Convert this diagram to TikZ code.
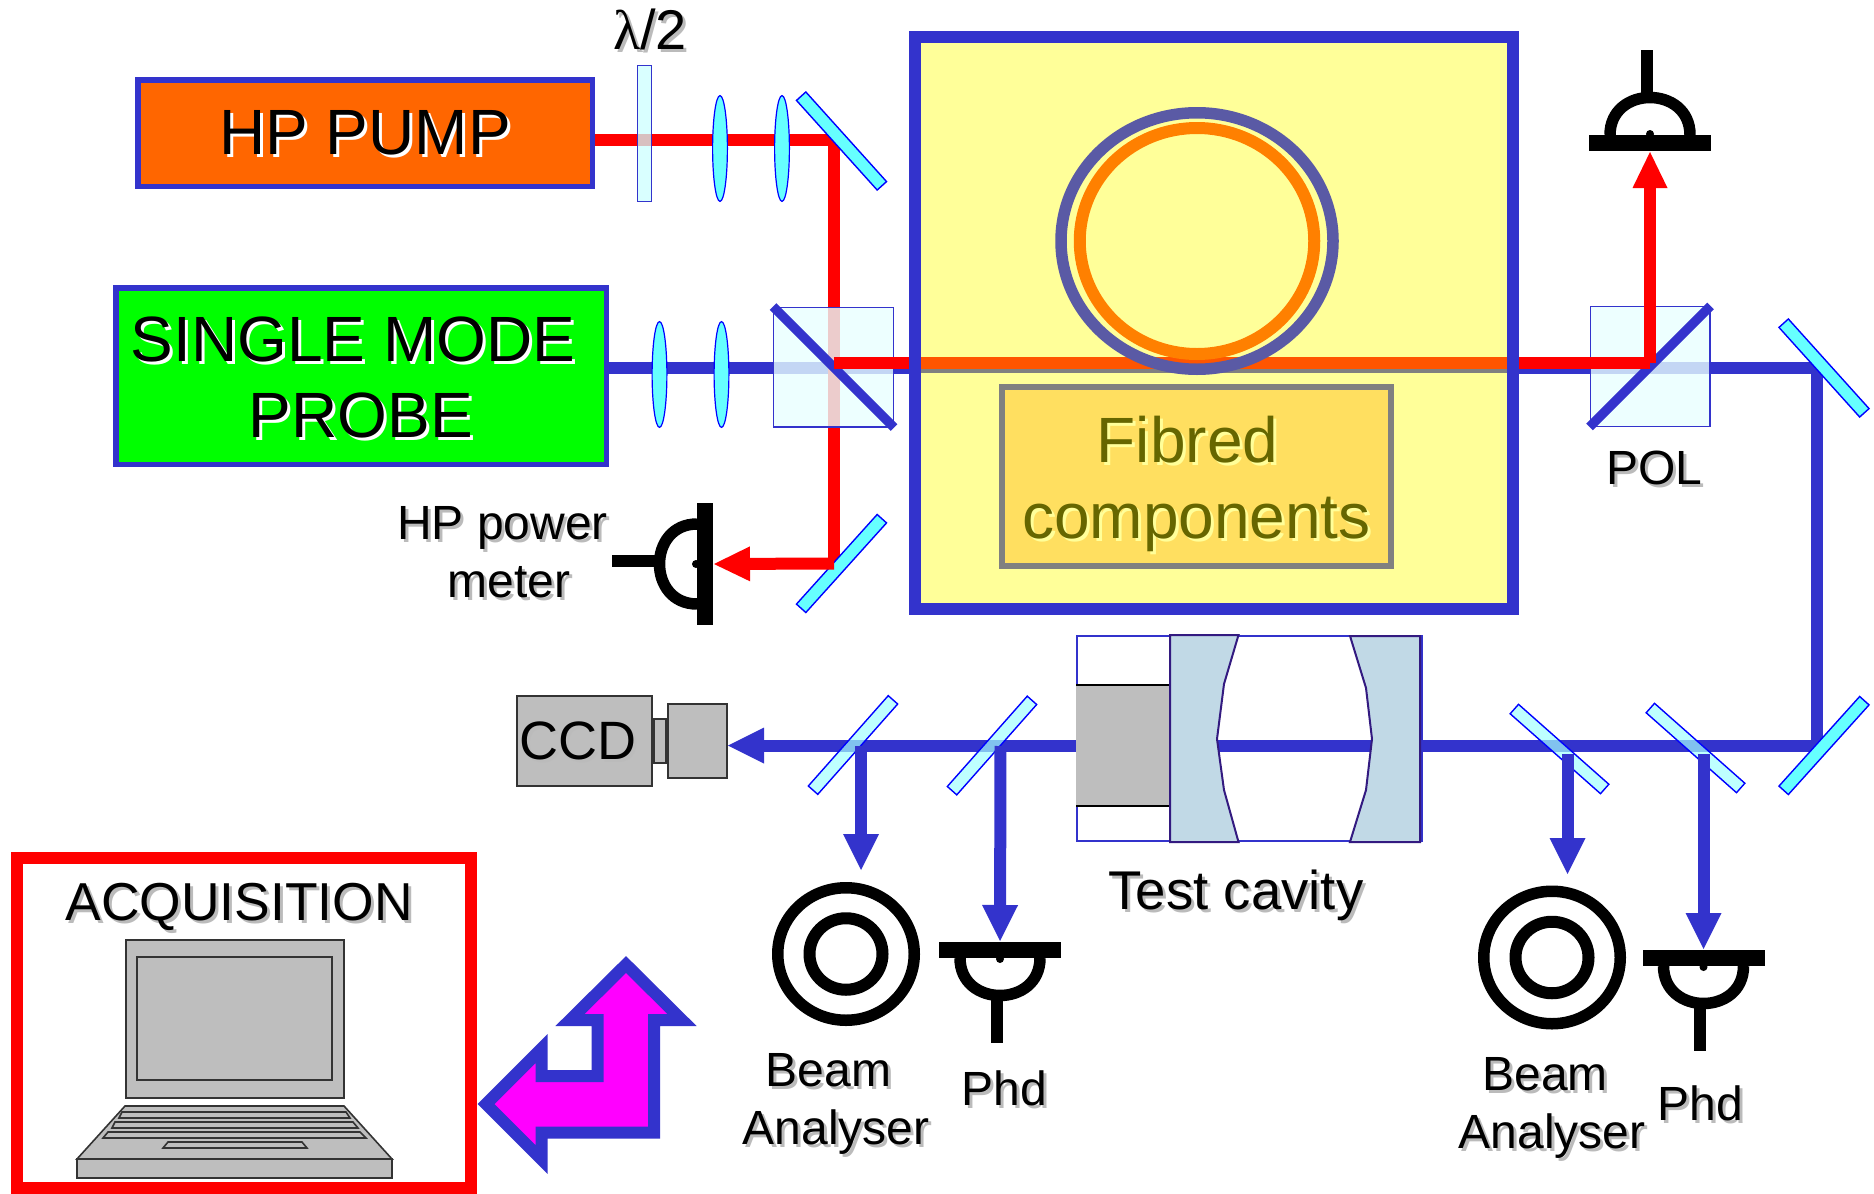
\documentclass[tikz,border=0pt]{standalone}
\usepackage{fontspec}
\setmainfont{Liberation Sans}
\newfontfamily\lamfont{Liberation Serif}
\usetikzlibrary{positioning,arrows.meta,shapes.geometric}
\definecolor{beamblue}{HTML}{3333CC}
\definecolor{beamred}{HTML}{FF0000}
\definecolor{pumporange}{HTML}{FF6600}
\definecolor{probegreen}{HTML}{00FF00}
\definecolor{boxyellow}{HTML}{FFFF99}
\definecolor{fibreyellow}{HTML}{FFDF60}
\definecolor{fibretext}{HTML}{666600}
\definecolor{ringblue}{HTML}{5A5AA5}
\definecolor{ringorange}{HTML}{FF8000}
\definecolor{midorange}{HTML}{FF5500}
\definecolor{midgray}{HTML}{808080}
\definecolor{mirrorcyan}{HTML}{66FFFF}
\definecolor{platecyan}{HTML}{CCFFFF}
\definecolor{cubefill}{HTML}{E8FFFF}
\definecolor{devicegray}{HTML}{BEBEBE}
\definecolor{cavityblue}{HTML}{C1D9E6}
\definecolor{cavityedge}{HTML}{331A80}
\definecolor{shadowgray}{HTML}{BBBBBB}
\definecolor{arrowmagenta}{HTML}{FF00FF}
\newcommand{\shadowed}[2][shadowgray]{\leavevmode\rlap{\hspace{1.5pt}\raisebox{-1.5pt}[0pt][0pt]{\textcolor{#1}{#2}}}#2}
\tikzset{
  bigtext/.style={font=\fontsize{32pt}{38pt}\selectfont},
  lbl/.style={inner sep=0pt,font=\fontsize{24pt}{29pt}\selectfont,align=center},
  sourcebox/.style={rectangle,draw=beamblue,line width=2.75pt,inner sep=0pt,bigtext,align=center},
  bluebeam/.style={draw=beamblue,line width=6pt},
  redbeam/.style={draw=beamred,line width=6pt},
  bluearrow/.style={bluebeam,-{Triangle[length=18pt,width=18pt,line width=0pt]}},
  redarrow/.style={redbeam,-{Triangle[length=18pt,width=17.5pt,line width=0pt]}},
  lens/.style={ellipse,draw=blue,line width=.6pt,fill=mirrorcyan,inner sep=0pt,minimum width=7.4pt,minimum height=52.9pt},
  mirrorsolid/.style={rectangle,draw=blue,line width=.7pt,fill=mirrorcyan,inner sep=0pt,minimum width=60.3pt,minimum height=6.3pt},
  mirrorpart/.style={mirrorsolid,fill=mirrorcyan!60!white,fill opacity=.7},
  cube/.style={rectangle,draw=beamblue,line width=.6pt,fill=cubefill,fill opacity=.8,inner sep=0pt,minimum width=59.9pt,minimum height=59.9pt},
  splitter/.style={draw=beamblue,line width=4.75pt},
  ringout/.style={ellipse,draw=black,line width=5.75pt,inner sep=0pt,minimum width=68.25pt,minimum height=66.25pt},
  ringin/.style={ellipse,draw=black,line width=6pt,inner sep=0pt,minimum width=36.5pt,minimum height=35.75pt},
  device/.style={draw=black!80,line width=.8pt,fill=devicegray},
  devicenode/.style={device,rectangle,inner sep=0pt},
  mirrorcav/.style={draw=cavityedge,line width=1pt,fill=cavityblue},
  pics/phd/.style={code={
    \coordinate (-in) at (0,9);
    \draw[line width=5.75pt] (-40,-8) .. controls (-40,-58) and (40,-58) .. (40,-8);
    \fill (-61,-8) rectangle (61,8);
    \fill (0,-9) circle (2pt);
    \draw[line width=6pt] (-3.5,-44) -- (-3.5,-93);
  }}
}
\begin{document}
\begin{tikzpicture}[x=0.5pt,y=-0.5pt]
  \useasboundingbox (0,0) rectangle (1874,1194);
  \coordinate (pumpbend) at (834,140);
  \coordinate (meterbend) at (834,563.5);
  \coordinate (bluejoin) at (834,367.5);
  \coordinate (redjoin) at (834,363);
  \coordinate (polbend) at (1650,363);
  \coordinate (cornerup) at (1817,367.5);
  \coordinate (cornerlow) at (1817,745.5);
  \coordinate (tapa) at (861,746);
  \coordinate (tapb) at (1000.5,746);
  \coordinate (tapc) at (1567.5,754);
  \coordinate (tapd) at (1703.5,754);
  \coordinate (anaa) at (861,870);
  \coordinate (anab) at (1567.5,874);
  \coordinate (fibleft) at (921,367);
  \coordinate (fibright) at (1507,367);
  \coordinate (orleft) at (921,363);
  \coordinate (orright) at (1507,363);

  \node[sourcebox,fill=pumporange,minimum width=227.25pt,minimum height=53.25pt] (pump) at (365,133) {\shadowed[white]{HP PUMP}};
  \node[sourcebox,fill=probegreen,minimum width=245.25pt,minimum height=88.25pt] (probe) at (361,376) {\rule{0pt}{24pt}\shadowed[white]{SINGLE MODE}\hspace*{8pt}\\\shadowed[white]{PROBE}};
  \node[rectangle,draw=beamblue,line width=6pt,fill=boxyellow,minimum width=299pt,minimum height=286pt] (setup) at (1214,323) {};
  \node[devicenode,minimum width=67.7pt,minimum height=45pt,font=\fontsize{27pt}{30pt}\selectfont] (ccd) at (584.5,741) {\shadowed{CCD}\hspace*{6.5pt}};
  \node[devicenode,right=0pt of ccd,minimum width=6.2pt,minimum height=22.2pt] (ccdneck) {};
  \node[devicenode,right=0pt of ccdneck,minimum width=29.7pt,minimum height=37.2pt] (ccdcam) {};

  \draw[draw=midgray,line width=6pt] (fibleft) -- (fibright);
  \draw[draw=midorange,line width=6pt] (orleft) -- (orright);
  \draw[bluebeam] (probe.east |- bluejoin) -- (setup.west |- bluejoin);
  \draw[bluearrow] (setup.east |- cornerup) -- (cornerup) -- (cornerlow) -- (ccdcam.east |- cornerlow);
  \draw[redbeam] (pump.east |- pumpbend) -- (pumpbend) -- (meterbend);

  \node[ellipse,draw=ringblue,line width=5.75pt,inner sep=0pt,minimum width=136pt,minimum height=128.25pt] (ringout) at (1197,241) {};
  \node[ellipse,draw=ringorange,line width=6pt,inner sep=0pt,minimum width=117.25pt,minimum height=113pt] (ringin) at (ringout.center) {};
  \node[rectangle,draw=midgray,line width=3pt,fill=fibreyellow,inner sep=0pt,bigtext,align=center,text=fibretext,minimum width=194.5pt,minimum height=89.5pt] (fibred) at (1196.5,476.5) {\rule{0pt}{30.5pt}\shadowed[boxyellow]{Fibred}\hspace*{9pt}\\\shadowed[boxyellow]{components}};

  \node[rectangle,draw=beamblue,line width=.7pt,fill=platecyan,fill opacity=.75,inner sep=0pt,minimum width=6.8pt,minimum height=67.8pt] (plate) at (644.5,133.5) {};
  \node[lbl,above=7.5pt of plate,xshift=2.75pt,font=\fontsize{28pt}{29pt}\selectfont] (platelbl) {\shadowed{{\lamfont λ}/2}};
  \node[lens] (lensa) at (720,148.5) {};
  \node[lens,right=23pt of lensa] (lensb) {};
  \node[lens] (lensc) at (659.5,374.5) {};
  \node[lens,right=23pt of lensc] (lensd) {};
  \node[mirrorsolid,rotate=-48] (mirrora) at (841.5,141) {};
  \node[mirrorsolid,rotate=48] (mirrorb) at (841.5,563.5) {};
  \node[mirrorsolid,rotate=-48] (mirrorc) at (1824,368) {};
  \node[mirrorsolid,rotate=48] (mirrord) at (1824,745.5) {};

  \node[cube] (cubeleft) at (833.5,367) {};
  \draw[splitter] (cubeleft.north west) -- (cubeleft.south east);
  \draw[redbeam] (redjoin) -- (setup.west |- redjoin);
  \node[cube] (cubepol) at (1650,366.5) {};
  \draw[splitter] (cubepol.south west) -- (cubepol.north east);
  \node[lbl,below=12pt of cubepol,xshift=2.25pt] (pollbl) {\shadowed{POL}};

  \pic (phdtop) at (1650,143) {phd};
  \draw[redbeam] (setup.east |- polbend) -- (polbend);
  \draw[redarrow] (polbend) -- (phdtop-in);
  \pic[rotate=90,xscale=-1] (phdmeter) at (705,564) {phd};
  \draw[redarrow] (meterbend) -- (phdmeter-in);
  \node[lbl] (meterlbl) at (509,552.5) {\shadowed{HP power}\hspace*{6.5pt}\\\shadowed{meter}};

  \node[mirrorpart,rotate=48.5] (mirrore) at (853,745) {};
  \node[mirrorpart,rotate=48.5] (mirrorf) at (992,745.5) {};
  \node[mirrorpart,rotate=-41.5] (mirrorg) at (1559.5,749) {};
  \node[mirrorpart,rotate=-41.5] (mirrorh) at (1695.5,748) {};

  \node[rectangle,draw=beamblue,line width=1pt,inner sep=0pt,minimum width=172.5pt,minimum height=102.5pt] (cavity) at (1249.5,738.5) {};
  \fill[devicegray] (1076,685) rectangle (1170,806);
  \draw[black,line width=1pt] (1076,685) -- (1170,685) (1076,806) -- (1170,806);
  \draw[mirrorcav] (1170,635) -- (1238.5,635) -- (1224,684) -- (1217,739) -- (1224,790) -- (1238.5,842) -- (1170,842) -- cycle;
  \draw[mirrorcav] (1350,636) -- (1366,688) -- (1372,739) -- (1366,790) -- (1350,842) -- (1420,842) -- (1420,636) -- cycle;
  \node[lbl,below=14pt of cavity,xshift=-6.75pt,font=\fontsize{27.3pt}{30pt}\selectfont] (cavitylbl) {\shadowed{Test cavity}};

  \node[ringout] (anaouta) at (846,954) {};
  \node[ringin] (anaina) at (anaouta.center) {};
  \node[ringout] (anaoutb) at (1552,957.5) {};
  \node[ringin] (anainb) at (anaoutb.center) {};
  \pic[yscale=-1] (phda) at (1000,950) {phd};
  \pic[yscale=-1] (phdb) at (1703.5,958) {phd};
  \draw[bluearrow] (tapa) -- (anaa);
  \draw[bluearrow] (tapb) -- (phda-in);
  \draw[bluearrow] (tapc) -- (anab);
  \draw[bluearrow] (tapd) -- (phdb-in);
  \node[lbl] (anaalbl) at (836,1104) {\shadowed{Beam}\hspace*{7.5pt}\\\shadowed{Analyser}};
  \node[lbl] (anablbl) at (1552,1108) {\shadowed{Beam}\hspace*{7pt}\\\shadowed{Analyser}};
  \node[lbl,anchor=base] (phdalbl) at (1004,1105) {\shadowed{Phd}};
  \node[lbl,anchor=base] (phdblbl) at (1700,1120) {\shadowed{Phd}};

  \node[rectangle,draw=beamred,line width=6pt,minimum width=227pt,minimum height=165pt] (acq) at (244,1023) {};
  \node[lbl,anchor=base,font=\fontsize{26.7pt}{30pt}\selectfont] (acqlbl) at (239,920) {\shadowed{ACQUISITION}};
  \draw[device] (126,940) rectangle (344,1098);
  \draw[device] (137,957) rectangle (332,1080);
  \draw[device] (125,1106) -- (344,1106) -- (392,1159) -- (77,1159) -- cycle;
  \draw[device] (77,1159) rectangle (392,1178);
  \draw[device] (122,1112) -- (346,1112) -- (350,1118) -- (119,1118) -- cycle;
  \draw[device] (115,1122) -- (353,1122) -- (358,1128) -- (112,1128) -- cycle;
  \draw[device] (108,1132) -- (360,1132) -- (366,1138) -- (103,1138) -- cycle;
  \draw[device] (168,1142) -- (302,1142) -- (307,1148) -- (163,1148) -- cycle;

  \draw[draw=beamblue,line width=6pt,fill=arrowmagenta] (626,964.5) -- (682,1020) -- (654,1020) -- (654,1132.5) -- (541.5,1132.5) -- (541.5,1159.5) -- (486,1104) -- (541.5,1048.5) -- (541.5,1076) -- (597.5,1076) -- (597.5,1020) -- (570,1020) -- cycle;
\end{tikzpicture}
\end{document}
